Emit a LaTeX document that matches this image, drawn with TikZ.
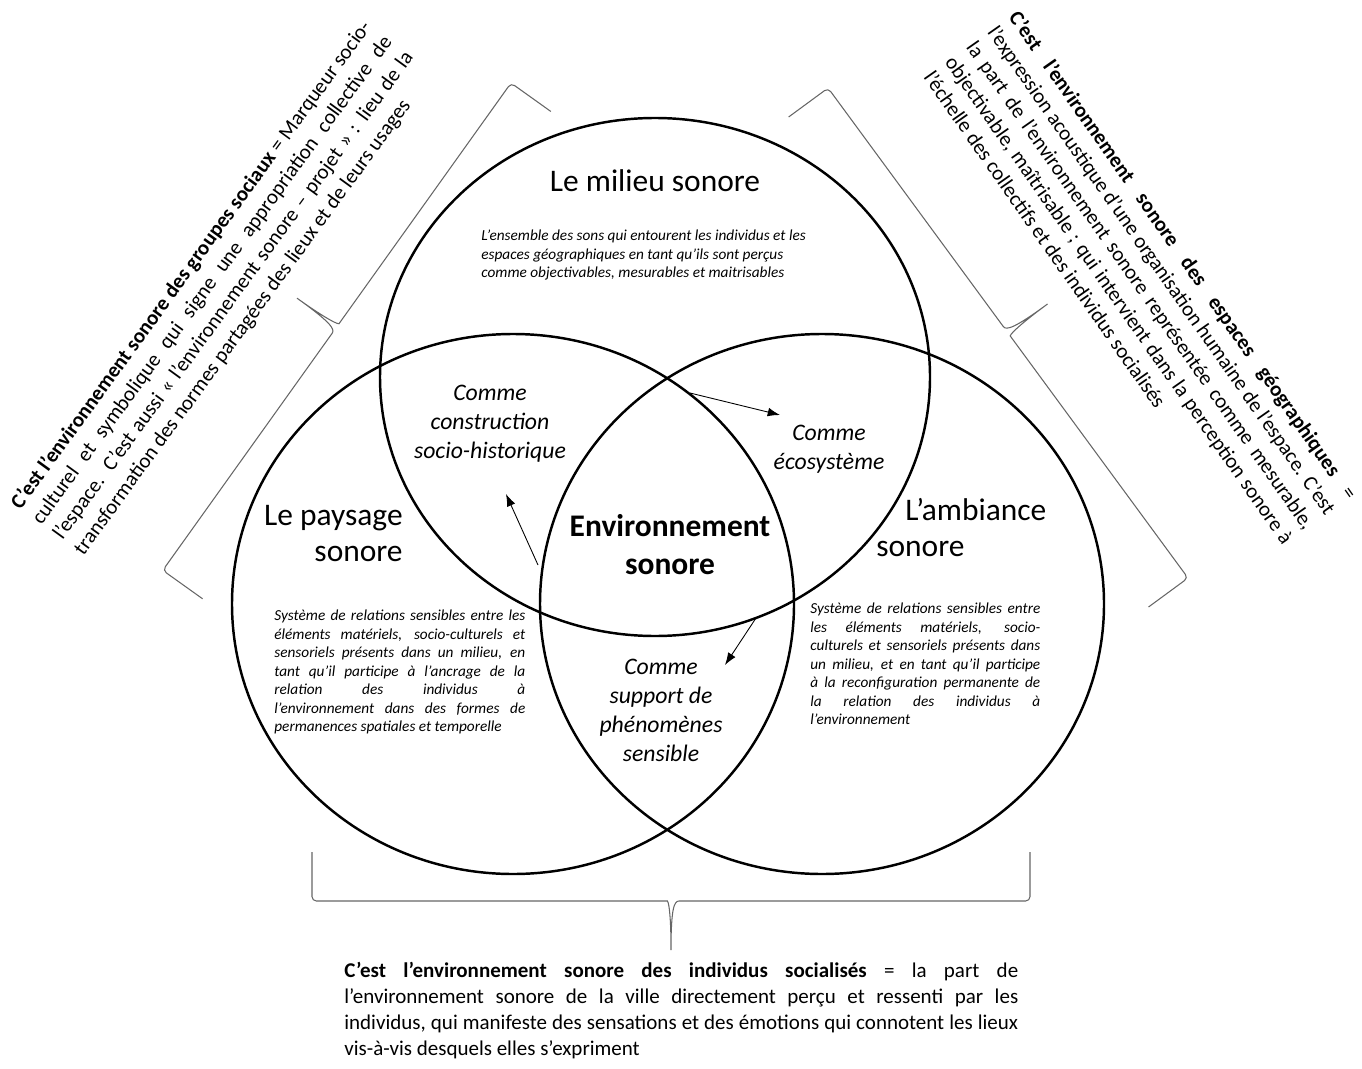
\documentclass[tikz,border=0pt]{standalone}
\usepackage{fontspec}
\setmainfont{Carlito}
\usetikzlibrary{arrows.meta}
\tikzset{
  ring/.style={line width=1.4pt},
  bracket/.style={draw=black!60, line width=0.6pt},
  heading/.style={inner sep=0pt, font=\fontsize{17.9}{20.5}\selectfont},
  core/.style={inner sep=0pt, align=center, font=\fontsize{17.9}{21.6}\selectfont\bfseries},
  comme/.style={inner sep=0pt, align=center, font=\fontsize{13.5}{16.5}\selectfont\itshape},
  gloss/.style={inner sep=0pt, align=left, anchor=north west, font=\fontsize{8.7}{10.5}\selectfont\itshape},
  side/.style={inner sep=0pt, align=left, font=\fontsize{11.95}{14.8}\selectfont},
}
\begin{document}
\begin{tikzpicture}[x=0.02cm, y=-0.02cm]
  \useasboundingbox (0,0) rectangle (1362,1068);
  % the three circles
  \draw[ring] (655,377) ellipse [x radius=275, y radius=259];
  \draw[ring] (513,604) ellipse [x radius=281, y radius=270];
  \draw[ring] (822,604) ellipse [x radius=282, y radius=270];
  \path
    (655,181) node[heading] (milieu) {Le milieu sonore}
    (403,534) node[heading, anchor=east, align=right] (paysage) {Le paysage\\sonore}
    (876,528) node[heading, anchor=west, align=left] (ambiance) {\hspace*{0.58cm}L'ambiance\\sonore}
    (670,545) node[core] (envson) {Environnement\\sonore}
    (490,424) node[comme] (construction) {Comme\\construction\\socio-historique}
    (829,449) node[comme] (ecosysteme) {Comme\\écosystème}
    (661,710) node[comme] (support) {Comme\\support de\\phénomènes\\sensible};
  \path
    (481,230) node[gloss] (milieutxt) {L'ensemble des sons qui entourent les individus et les\\
      espaces géographiques en tant qu'ils sont perçus\\
      comme objectivables, mesurables et maitrisables}
    (274,610) node[gloss] (paysagetxt) {\makebox[5.02cm][s]{Système de relations sensibles entre les}\\
      \makebox[5.02cm][s]{éléments matériels, socio-culturels et}\\
      \makebox[5.02cm][s]{sensoriels présents dans un milieu, en}\\
      \makebox[5.02cm][s]{tant qu'il participe à l'ancrage de la}\\
      \makebox[5.02cm][s]{relation des individus à}\\
      \makebox[5.02cm][s]{l'environnement dans des formes de}\\
      permanences spatiales et temporelle}
    (810,603) node[gloss] (ambiancetxt) {\makebox[4.6cm][s]{Système de relations sensibles entre}\\
      \makebox[4.6cm][s]{les éléments matériels, socio-}\\
      \makebox[4.6cm][s]{culturels et sensoriels présents dans}\\
      \makebox[4.6cm][s]{un milieu, et en tant qu'il participe}\\
      \makebox[4.6cm][s]{à la reconfiguration permanente de}\\
      \makebox[4.6cm][s]{la relation des individus à}\\
      l'environnement};
  \path
    (223,288) node[side, rotate=54] (groupes) {\makebox[11.95cm][s]{\textbf{C'est l'environnement sonore des groupes sociaux} = Marqueur socio-}\\
      \makebox[11.95cm][s]{culturel et symbolique qui signe une appropriation collective de}\\
      \makebox[11.95cm][s]{l'espace. C'est aussi «~l'environnement sonore – projet~» : lieu de la}\\
      transformation des normes partagées des lieux et de leurs usages}
    (1141,285) node[side, rotate=-55] (espaces) {\makebox[11.8cm][s]{\textbf{C'est l'environnement sonore des espaces géographiques} =}\\
      \makebox[11.8cm][s]{l'expression acoustique d'une organisation humaine de l'espace. C'est}\\
      \makebox[11.8cm][s]{la part de l'environnement sonore représentée comme mesurable,}\\
      \makebox[11.8cm][s]{objectivable, maîtrisable ; qui intervient dans la perception sonore à}\\
      l'échelle des collectifs et des individus socialisés}
    (344,962) node[side, anchor=north west] (individus) {\makebox[13.48cm][s]{\textbf{C'est l'environnement sonore des individus socialisés} = la part de}\\
      \makebox[13.48cm][s]{l'environnement sonore de la ville directement perçu et ressenti par les}\\
      \makebox[13.48cm][s]{individus, qui manifeste des sensations et des émotions qui connotent les lieux}\\
      vis-à-vis desquels elles s'expriment};
  % braces
  \begin{scope}[shift={(312,901)}]
    \draw[bracket] (0,-49) [rounded corners=2.5pt] -- (0,0) -- (351,0) [sharp corners]
      .. controls (356,0) and (359,8) .. (359,49) .. controls (359,8) and (362,0) .. (367,0)
      [rounded corners=2.5pt] -- (718,0) -- (718,-49);
  \end{scope}
  \begin{scope}[shift={(511,83)}, rotate=234.45]
    \draw[bracket] (0,-49) [rounded corners=2.5pt] -- (0,0) -- (291.5,0) [sharp corners]
      .. controls (296.5,0) and (299.5,8) .. (299.5,49) .. controls (299.5,8) and (302.5,0) .. (307.5,0)
      [rounded corners=2.5pt] -- (599,0) -- (599,-49);
  \end{scope}
  \begin{scope}[shift={(1188,578)}, rotate=126.3]
    \draw[bracket] (0,-49) [rounded corners=2.5pt] -- (0,0) -- (296,0) [sharp corners]
      .. controls (301,0) and (304,8) .. (304,49) .. controls (304,8) and (307,0) .. (312,0)
      [rounded corners=2.5pt] -- (608,0) -- (608,-49);
  \end{scope}
  % arrows
  \coordinate (e1) at (690,393);
  \coordinate (e2) at (780,415);
  \coordinate (c1) at (538,565);
  \coordinate (c2) at (506,494);
  \coordinate (s1) at (756,618);
  \coordinate (s2) at (725,665);
  \begin{scope}[-{Latex[length=7pt, width=5pt]}, line width=0.5pt]
    \draw (e1) to (e2);
    \draw (c1) to (c2);
    \draw (s1) to (s2);
  \end{scope}
\end{tikzpicture}
\end{document}
